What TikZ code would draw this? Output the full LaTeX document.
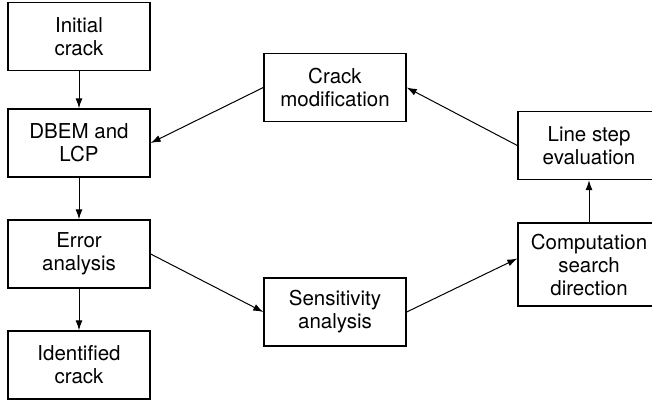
\documentclass[tikz,border=0pt]{standalone}
\usepackage{fontspec}
\setmainfont{TeX Gyre Heros}
\usetikzlibrary{arrows.meta}

\begin{document}
\begin{tikzpicture}[
      x=1pt, y=1pt,
      stage/.style={draw, line width=1.4pt, minimum width=142pt, minimum height=68pt,
        align=center, inner sep=0pt,
        font=\fontsize{20.5}{23}\selectfont},
      flow/.style={-{Latex[length=10pt, width=7pt]}, line width=1pt},
    ]
    \clip (0,0) rectangle (652,-402);

    % Left column
    \node[stage] (init)  at (79, -36.5) {Initial\\crack};
    \node[stage] (dbem)  at (79, -143)  {DBEM and\\LCP};
    \node[stage] (err)   at (79, -254)  {Error\\analysis};
    \node[stage] (ident) at (79, -365)  {Identified\\crack};

    % Middle and right
    \node[stage] (cmod) at (335, -87.5) {Crack\\modification};
    \node[stage] (sens) at (335, -312)  {Sensitivity\\analysis};
    \node[stage] (line) at (589, -145.5) {Line step\\evaluation};
    \node[stage, minimum height=83pt] (comp) at (589, -264.5)
      {Computation\\search\\direction};

    % Connectors
    \draw[flow] (init) -- (dbem);
    \draw[flow] (dbem) -- (err);
    \draw[flow] (err) -- (ident);
    \draw[flow] (err.east) -- (sens.west);
    \draw[flow] (sens.east) -- ([yshift=6pt]comp.west);
    \draw[flow] (comp) -- (line);
    \draw[flow] (line.west) -- (cmod.east);
    \draw[flow] (cmod.west) -- (dbem.east);
  \end{tikzpicture}
\end{document}
